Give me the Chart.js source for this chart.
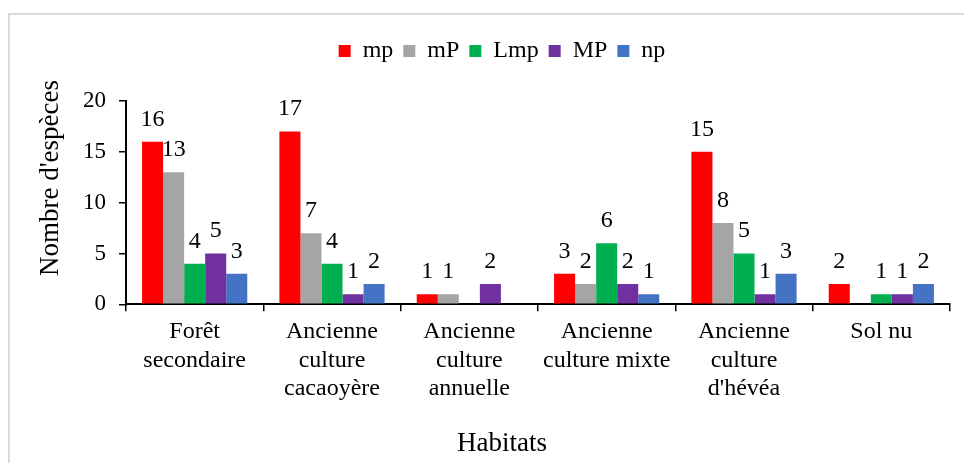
<!DOCTYPE html>
<html>
<head>
<meta charset="utf-8">
<script src="https://cdn.jsdelivr.net/npm/chart.js@4/dist/chart.umd.min.js"></script>
<style>
  html, body { margin: 0; padding: 0; background: #fff; overflow: hidden; width: 964px; height: 463px; }
  #frame { position: absolute; left: 8px; top: 13px; width: 1010px; height: 520px; border: 2px solid #dadada; box-sizing: border-box; }
  #c { position: absolute; left: 6px; top: 14px; }
</style>
</head>
<body>
<div id="frame"></div>
<canvas id="c" width="992" height="460"></canvas>
<script>
// Habitats (multi-line category labels)
const habitats = [
  ["Forêt", "secondaire"],
  ["Ancienne", "culture", "cacaoyère"],
  ["Ancienne", "culture", "annuelle"],
  ["Ancienne", "culture mixte"],
  ["Ancienne", "culture", "d'hévéa"],
  ["Sol nu"]
];

// Number of species per life-form type
const mp  = [16, 17, 1, 3, 15, 2];
const mP  = [13, 7, 1, 2, 8, 0];
const Lmp = [4, 4, 0, 6, 5, 1];
const MP  = [5, 1, 2, 2, 1, 1];
const np  = [3, 2, 0, 1, 3, 2];

const seriesNames  = ["mp", "mP", "Lmp", "MP", "np"];
const seriesValues = [mp, mP, Lmp, MP, np];
const seriesColors = ["#FF0000", "#A5A5A5", "#00B050", "#7030A0", "#4472C4"];

const yTicks = [0, 5, 10, 15, 20];
const yTitle = "Nombre d'espèces";
const xTitle = "Habitats";

const SERIF = '"Liberation Serif", "Times New Roman", serif';
Chart.defaults.font.family = SERIF;
Chart.defaults.color = '#000';

// Value written above each non-zero bar
const valueLabels = {
  id: 'valueLabels',
  afterDatasetsDraw(chart) {
    const ctx = chart.ctx;
    ctx.save();
    ctx.font = '24px ' + SERIF;
    ctx.fillStyle = '#000';
    ctx.textAlign = 'center';
    ctx.textBaseline = 'alphabetic';
    chart.data.datasets.forEach((ds, i) => {
      chart.getDatasetMeta(i).data.forEach((bar, j) => {
        const v = ds.data[j];
        if (!v) return;
        ctx.fillText(String(v), bar.x, bar.y - 16);
      });
    });
    ctx.restore();
  }
};

// Rotated title of the value axis
const yAxisTitle = {
  id: 'yAxisTitle',
  afterDraw(chart) {
    const { ctx, chartArea } = chart;
    ctx.save();
    ctx.translate(45, chartArea.top + 77);
    ctx.rotate(-Math.PI / 2);
    ctx.font = '27px ' + SERIF;
    ctx.fillStyle = '#000';
    ctx.textAlign = 'center';
    ctx.textBaseline = 'middle';
    ctx.fillText(yTitle, 0, 0);
    ctx.restore();
  }
};

new Chart(document.getElementById('c'), {
  type: 'bar',
  data: {
    labels: habitats,
    datasets: seriesNames.map((name, i) => ({
      label: name,
      data: seriesValues[i],
      backgroundColor: seriesColors[i],
      borderWidth: 0,
      categoryPercentage: 0.766,
      barPercentage: 1
    }))
  },
  options: {
    responsive: false,
    animation: false,
    devicePixelRatio: 1,
    layout: { padding: { top: 15, right: 0, bottom: 0, left: 0 } },
    plugins: {
      legend: {
        position: 'top',
        labels: { boxWidth: 12, boxHeight: 12, padding: 10, font: { size: 24 }, color: '#000' }
      },
      // empty spacer between legend and plot
      title: { display: true, text: '', position: 'top', weight: 500, padding: 0, font: { size: 28, lineHeight: 1 } },
      subtitle: {
        display: true, text: xTitle, position: 'bottom',
        padding: { top: 25, bottom: 15 }, font: { size: 27, lineHeight: 1.1, weight: 'normal' }, color: '#000'
      },
      tooltip: { enabled: false }
    },
    scales: {
      x: {
        grid: { offset: true, drawOnChartArea: false, drawTicks: true, tickLength: 7, color: '#000', lineWidth: 1.5 },
        border: { color: '#000', width: 2 },
        ticks: { font: { size: 24, lineHeight: 1.1875 }, padding: 6.5, color: '#000', maxRotation: 0, autoSkip: false },
        afterFit(s) { s.height = 100; }
      },
      y: {
        min: yTicks[0],
        max: yTicks[yTicks.length - 1],
        afterBuildTicks(s) { s.ticks = yTicks.map(v => ({ value: v })); },
        ticks: { font: { size: 23 }, padding: 13, color: '#000' },
        grid: { drawOnChartArea: false, drawTicks: true, tickLength: 7, color: '#000', lineWidth: 1.5 },
        border: { color: '#000', width: 2 },
        afterFit(s) { s.width = 120; }
      },
      // blank margin on the right of the plot
      yRight: {
        position: 'right',
        display: true,
        grid: { display: false },
        border: { display: false },
        ticks: { display: false },
        afterFit(s) { s.width = 48; }
      }
    }
  },
  plugins: [valueLabels, yAxisTitle]
});
</script>
</body>
</html>
